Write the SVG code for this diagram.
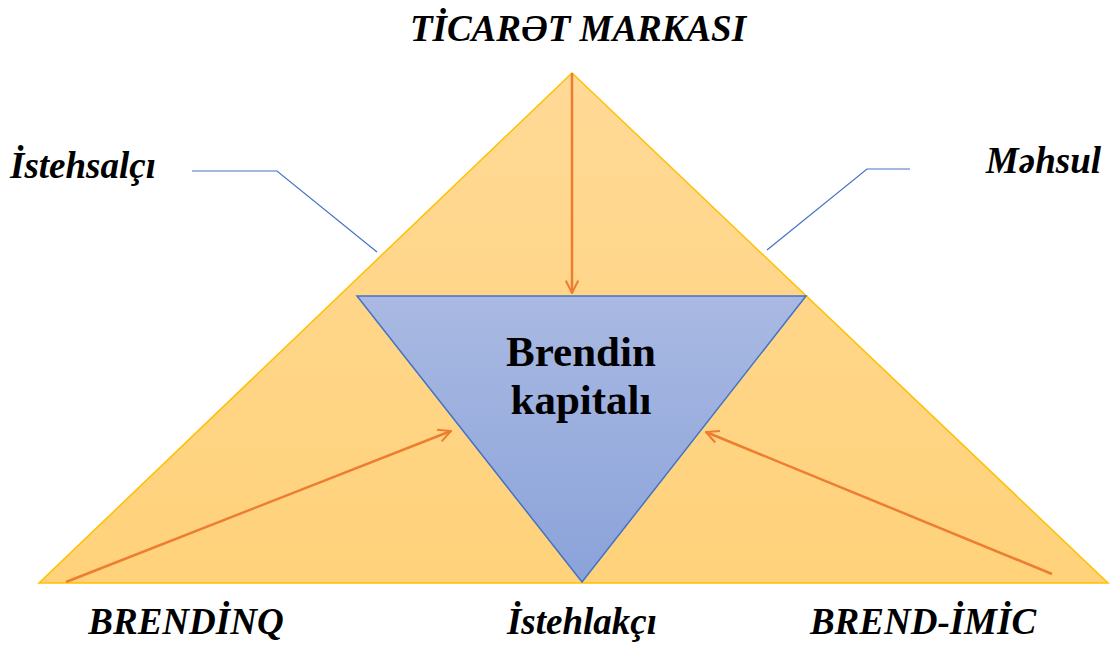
<svg xmlns="http://www.w3.org/2000/svg" width="1113" height="645" viewBox="0 0 1113 645">
<style>
.lbl{font-family:"Liberation Serif","Times New Roman",serif;font-weight:bold;font-style:italic;font-size:37px;fill:#000}
.ctr{font-family:"Liberation Serif","Times New Roman",serif;font-weight:bold;font-size:43px;fill:#000}
.arr{stroke:#ED7D31;stroke-width:2.5;fill:none}
.call{stroke:#4472C4;stroke-width:1.2;fill:none}
</style>
<defs>
<linearGradient id="og" x1="0" y1="0" x2="0" y2="1">
<stop offset="0" stop-color="#FFD996"/>
<stop offset="1" stop-color="#FFD27A"/>
</linearGradient>
<linearGradient id="bg" x1="0" y1="0" x2="0" y2="1">
<stop offset="0" stop-color="#A9B9E2"/>
<stop offset="1" stop-color="#8BA3DA"/>
</linearGradient>
<marker id="ah" viewBox="0 0 12 12" refX="11" refY="6" markerWidth="6" markerHeight="6" orient="auto" markerUnits="strokeWidth">
<path d="M1,1 L11,6 L1,11" fill="none" stroke="#ED7D31" stroke-width="1.6"/>
</marker>
</defs>
<g id="outer-triangle">
<polygon points="572,73 1108,583 39,583" fill="url(#og)" stroke="#FFC000" stroke-width="1.5"/>
</g>
<g id="inner-triangle">
<polygon points="357,296 806,296 582,582" fill="url(#bg)" stroke="#4472C4" stroke-width="1.5"/>
<text class="ctr" x="581" y="366" text-anchor="middle">Brendin</text>
<text class="ctr" x="581" y="414" text-anchor="middle">kapitalı</text>
</g>
<g id="connectors">
<line class="arr" x1="572" y1="73" x2="572" y2="293" marker-end="url(#ah)"/>
<line class="arr" x1="66" y1="582" x2="451" y2="431" marker-end="url(#ah)"/>
<line class="arr" x1="1052" y1="574" x2="706" y2="432" marker-end="url(#ah)"/>
<polyline class="call" points="192,171 277,171 377,252"/>
<polyline class="call" points="767,250 867,169 910,169"/>
</g>
<g id="label-top"><text class="lbl" x="578" y="41" text-anchor="middle">TİCARƏT MARKASI</text></g>
<g id="label-istehsalci"><text class="lbl" x="10" y="178">İstehsalçı</text></g>
<g id="label-mehsul"><text class="lbl" x="1101" y="173" text-anchor="end">Məhsul</text></g>
<g id="label-brending"><text class="lbl" x="186" y="634" text-anchor="middle">BRENDİNQ</text></g>
<g id="label-istehlakci"><text class="lbl" x="582" y="634" text-anchor="middle">İstehlakçı</text></g>
<g id="label-brendimic"><text class="lbl" x="923" y="634" text-anchor="middle">BREND-İMİC</text></g>
</svg>
